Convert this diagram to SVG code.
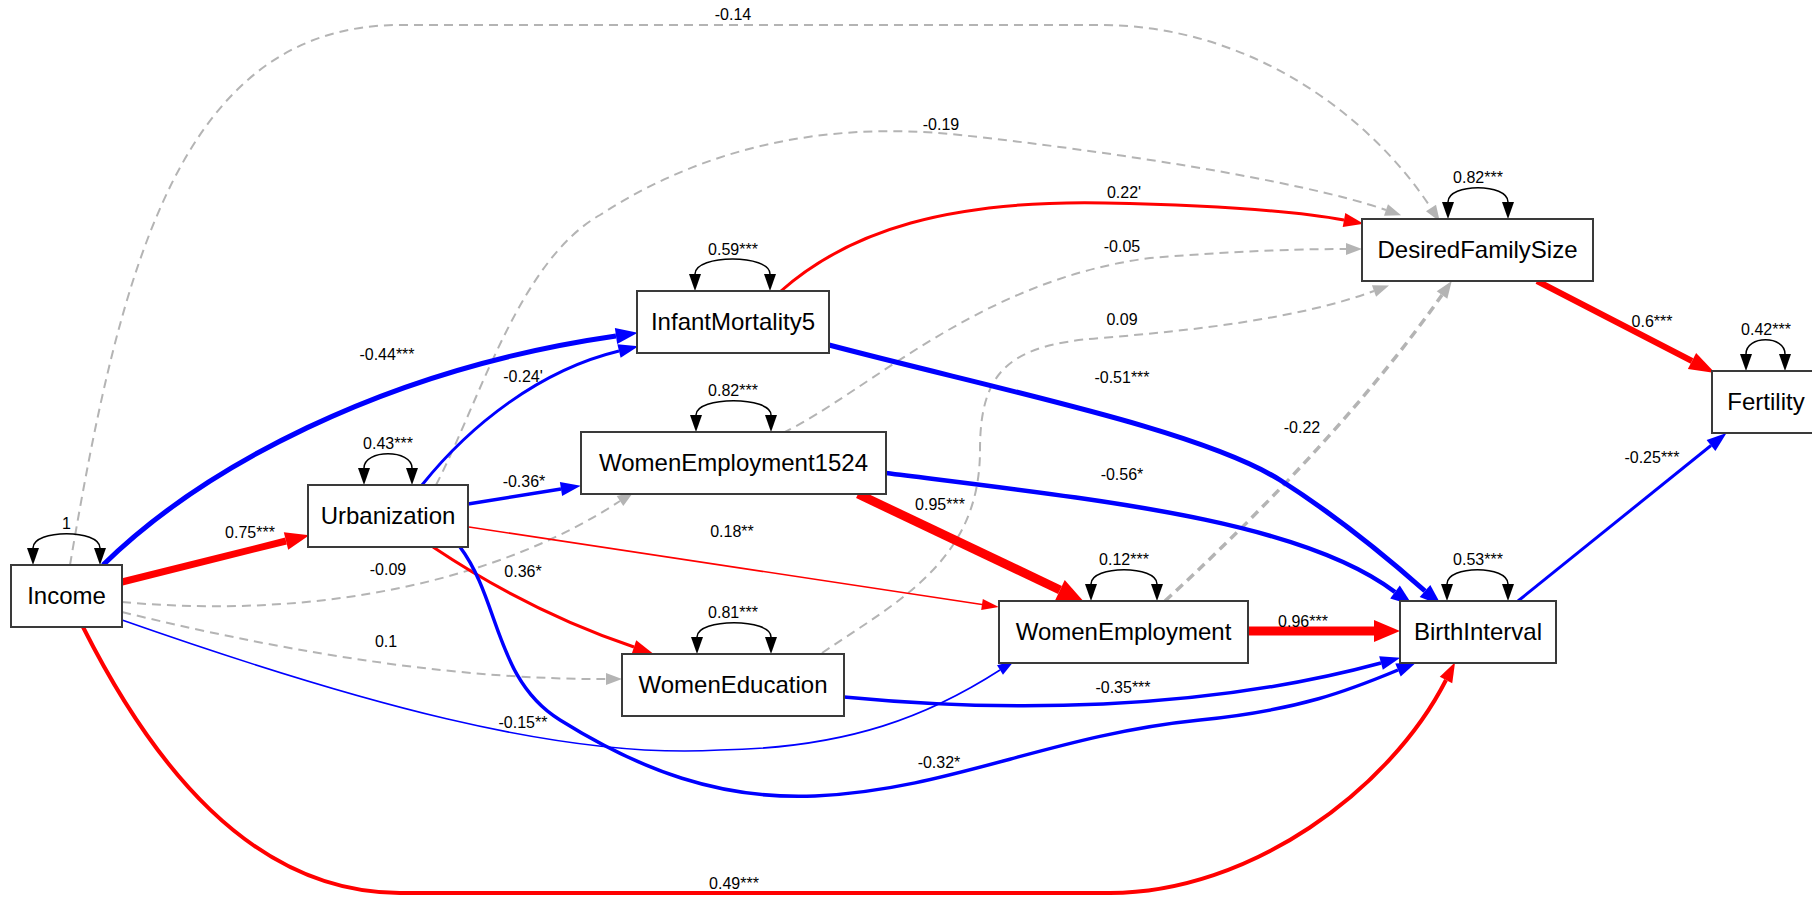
<svg xmlns="http://www.w3.org/2000/svg" width="1812" height="899" viewBox="0 0 1812 899">
<defs>
<style>
.node rect{fill:#fff;stroke:#3a3a3a;stroke-width:2}
.nm{font-family:"Liberation Sans",Arial,sans-serif;font-size:24px;text-anchor:middle;fill:#000}
.lbl{font-family:"Liberation Sans",Arial,sans-serif;font-size:16px;text-anchor:middle;fill:#000}
.loop{fill:none;stroke:#000;stroke-width:1.5;marker-start:url(#aK);marker-end:url(#aK)}
.e{fill:none}
.r{stroke:#f00}
.b{stroke:#00f}
.g{stroke:#b4b4b4;stroke-dasharray:9 6}
</style>
<marker id="aRXL" markerUnits="userSpaceOnUse" markerWidth="26" markerHeight="22" refX="0" refY="11" orient="auto" overflow="visible"><path d="M0,0 L26,11 L0,22 z" fill="#f00"/></marker>
<marker id="aRL" markerUnits="userSpaceOnUse" markerWidth="24" markerHeight="18" refX="0" refY="9" orient="auto" overflow="visible"><path d="M0,0 L24,9 L0,18 z" fill="#f00"/></marker>
<marker id="aR6" markerUnits="userSpaceOnUse" markerWidth="26" markerHeight="18" refX="0" refY="9" orient="auto" overflow="visible"><path d="M0,0 L26,9 L0,18 z" fill="#f00"/></marker>
<marker id="aRM" markerUnits="userSpaceOnUse" markerWidth="20" markerHeight="14" refX="0" refY="7" orient="auto" overflow="visible"><path d="M0,0 L20,7 L0,14 z" fill="#f00"/></marker>
<marker id="aRS" markerUnits="userSpaceOnUse" markerWidth="17" markerHeight="11" refX="0" refY="5.5" orient="auto" overflow="visible"><path d="M0,0 L17,5.5 L0,11 z" fill="#f00"/></marker>
<marker id="aBL" markerUnits="userSpaceOnUse" markerWidth="22" markerHeight="16" refX="0" refY="8" orient="auto" overflow="visible"><path d="M0,0 L22,8 L0,16 z" fill="#00f"/></marker>
<marker id="aBM" markerUnits="userSpaceOnUse" markerWidth="20" markerHeight="14" refX="0" refY="7" orient="auto" overflow="visible"><path d="M0,0 L20,7 L0,14 z" fill="#00f"/></marker>
<marker id="aBS" markerUnits="userSpaceOnUse" markerWidth="17" markerHeight="11" refX="0" refY="5.5" orient="auto" overflow="visible"><path d="M0,0 L17,5.5 L0,11 z" fill="#00f"/></marker>
<marker id="aG" markerUnits="userSpaceOnUse" markerWidth="16" markerHeight="12" refX="0" refY="6" orient="auto" overflow="visible"><path d="M0,0 L16,6 L0,12 z" fill="#b4b4b4"/></marker>
<marker id="aGT" markerUnits="userSpaceOnUse" markerWidth="17" markerHeight="13" refX="0" refY="6.5" orient="auto" overflow="visible"><path d="M0,0 L17,6.5 L0,13 z" fill="#b4b4b4"/></marker>
<marker id="aK" markerUnits="userSpaceOnUse" markerWidth="17" markerHeight="12" refX="0" refY="6" orient="auto-start-reverse" overflow="visible"><path d="M0,0 L17,6 L0,12 z" fill="#000"/></marker>
</defs>
<rect width="1812" height="899" fill="#fff"/>
<g id="edges">
<path class="e g" stroke-width="2" marker-end="url(#aG)" d="M70 565 C120 270 180 25 400 25 L1100 25 C1250 25 1370 115 1431 208"/>
<path class="e g" stroke-width="2" marker-end="url(#aG)" d="M436 485 C480 400 520 260 600 215 C700 150 820 120 960 135 C1100 150 1300 180 1386 210"/>
<path class="e g" stroke-width="2" marker-end="url(#aG)" d="M783 433 C870 390 980 280 1150 258 C1250 250 1310 249 1346 249"/>
<path class="e g" stroke-width="2" marker-end="url(#aG)" d="M822 653 C900 600 980 560 980 450 C980 370 1010 345 1100 338 C1200 330 1300 318 1374 291"/>
<path class="e g" stroke-width="3.5" stroke-dasharray="12 8" marker-end="url(#aGT)" d="M1165 601 Q1340 440 1442 295"/>
<path class="e g" stroke-width="2" marker-end="url(#aG)" d="M122 612 Q400 680 606 679"/>
<path class="e g" stroke-width="2" marker-end="url(#aG)" d="M122 602 C320 620 500 580 620 501"/>
<path class="e r" stroke-width="7" marker-end="url(#aRL)" d="M122 582 L286 541"/>
<path class="e b" stroke-width="5" marker-end="url(#aBL)" d="M103 565 C200 470 380 370 616 336"/>
<path class="e b" stroke-width="3" marker-end="url(#aBM)" d="M422 485 C470 425 540 370 619 351"/>
<path class="e b" stroke-width="3.5" marker-end="url(#aBM)" d="M468 504 L561 489"/>
<path class="e r" stroke-width="3" marker-end="url(#aRM)" d="M433 547 Q530 612 634 647"/>
<path class="e b" stroke-width="3.5" marker-end="url(#aBM)" d="M460 547 C500 600 495 680 560 720 C640 770 720 800 815 796 C950 790 1050 735 1200 720 C1300 710 1350 690 1398 670"/>
<path class="e b" stroke-width="1.6" marker-end="url(#aBS)" d="M122 620 C350 700 560 760 720 750 C850 748 930 715 1000 670"/>
<path class="e r" stroke-width="3" marker-end="url(#aRM)" d="M781 291 C850 230 950 200 1105 203 C1200 205 1290 210 1344 220"/>
<path class="e b" stroke-width="5" marker-end="url(#aBL)" d="M829 345 C1000 390 1200 430 1280 480 C1340 518 1390 560 1425 591"/>
<path class="e b" stroke-width="4.5" marker-end="url(#aBL)" d="M886 473 C1100 500 1300 520 1395 592"/>
<path class="e r" stroke-width="9" marker-end="url(#aRXL)" d="M858 494 L1060 590"/>
<path class="e r" stroke-width="1.6" marker-end="url(#aRS)" d="M469 527 L982 604.5"/>
<path class="e b" stroke-width="3.5" marker-end="url(#aBM)" d="M844 697 C1000 712 1200 712 1381 663"/>
<path class="e r" stroke-width="9" marker-end="url(#aRXL)" d="M1248 631 L1374 631"/>
<path class="e r" stroke-width="4" marker-end="url(#aRM)" d="M83 627 C150 760 250 893 400 893 L1110 893 C1250 893 1390 790 1446 680"/>
<path class="e r" stroke-width="6" marker-end="url(#aR6)" d="M1537 281 L1692 361"/>
<path class="e b" stroke-width="3" marker-end="url(#aBM)" d="M1518 601 L1711 445.5"/>
</g>
<g id="edge-labels">
<text class="lbl" x="250" y="538">0.75***</text>
<text class="lbl" x="387" y="360">-0.44***</text>
<text class="lbl" x="523" y="382">-0.24'</text>
<text class="lbl" x="524" y="487">-0.36*</text>
<text class="lbl" x="523" y="577">0.36*</text>
<text class="lbl" x="939" y="768">-0.32*</text>
<text class="lbl" x="523" y="728">-0.15**</text>
<text class="lbl" x="386" y="647">0.1</text>
<text class="lbl" x="388" y="575">-0.09</text>
<text class="lbl" x="733" y="20">-0.14</text>
<text class="lbl" x="941" y="130">-0.19</text>
<text class="lbl" x="1124" y="198">0.22'</text>
<text class="lbl" x="1122" y="252">-0.05</text>
<text class="lbl" x="1122" y="325">0.09</text>
<text class="lbl" x="1302" y="433">-0.22</text>
<text class="lbl" x="1122" y="383">-0.51***</text>
<text class="lbl" x="1122" y="480">-0.56*</text>
<text class="lbl" x="940" y="510">0.95***</text>
<text class="lbl" x="732" y="537">0.18**</text>
<text class="lbl" x="1123" y="693">-0.35***</text>
<text class="lbl" x="1303" y="627">0.96***</text>
<text class="lbl" x="734" y="889">0.49***</text>
<text class="lbl" x="1652" y="327">0.6***</text>
<text class="lbl" x="1652" y="463">-0.25***</text>
</g>
<g id="Income" class="node">
<path class="loop" d="M33 548 C33 529 100 529 100 548"/>
<text class="lbl" x="66.5" y="529">1</text>
<rect x="11" y="565" width="111" height="62"/>
<text class="nm" x="66.5" y="604">Income</text>
</g>
<g id="Urbanization" class="node">
<path class="loop" d="M364 468 C364 449 412 449 412 468"/>
<text class="lbl" x="388" y="449">0.43***</text>
<rect x="308" y="485" width="160" height="62"/>
<text class="nm" x="388" y="524">Urbanization</text>
</g>
<g id="InfantMortality5" class="node">
<path class="loop" d="M695 274 C695 254 770 254 770 274"/>
<text class="lbl" x="733" y="255">0.59***</text>
<rect x="637" y="291" width="192" height="62"/>
<text class="nm" x="733" y="330">InfantMortality5</text>
</g>
<g id="WomenEmployment1524" class="node">
<path class="loop" d="M696 415 C696 396 771 396 771 415"/>
<text class="lbl" x="733" y="396">0.82***</text>
<rect x="581" y="432" width="305" height="62"/>
<text class="nm" x="733.5" y="471">WomenEmployment1524</text>
</g>
<g id="WomenEducation" class="node">
<path class="loop" d="M697 637 C697 618 771 618 771 637"/>
<text class="lbl" x="733" y="618">0.81***</text>
<rect x="622" y="654" width="222" height="62"/>
<text class="nm" x="733" y="693">WomenEducation</text>
</g>
<g id="WomenEmployment" class="node">
<path class="loop" d="M1091 584 C1091 565 1157 565 1157 584"/>
<text class="lbl" x="1124" y="565">0.12***</text>
<rect x="999" y="601" width="249" height="62"/>
<text class="nm" x="1123.5" y="640">WomenEmployment</text>
</g>
<g id="BirthInterval" class="node">
<path class="loop" d="M1447 584 C1447 565 1508 565 1508 584"/>
<text class="lbl" x="1478" y="565">0.53***</text>
<rect x="1400" y="601" width="156" height="62"/>
<text class="nm" x="1478" y="640">BirthInterval</text>
</g>
<g id="DesiredFamilySize" class="node">
<path class="loop" d="M1448 202 C1448 183 1508 183 1508 202"/>
<text class="lbl" x="1478" y="183">0.82***</text>
<rect x="1362" y="219" width="231" height="62"/>
<text class="nm" x="1477.5" y="258">DesiredFamilySize</text>
</g>
<g id="Fertility" class="node">
<path class="loop" d="M1746 354 C1746 335 1785 335 1785 354"/>
<text class="lbl" x="1766" y="335">0.42***</text>
<rect x="1712" y="371" width="108" height="62"/>
<text class="nm" x="1766" y="410">Fertility</text>
</g>
</svg>
